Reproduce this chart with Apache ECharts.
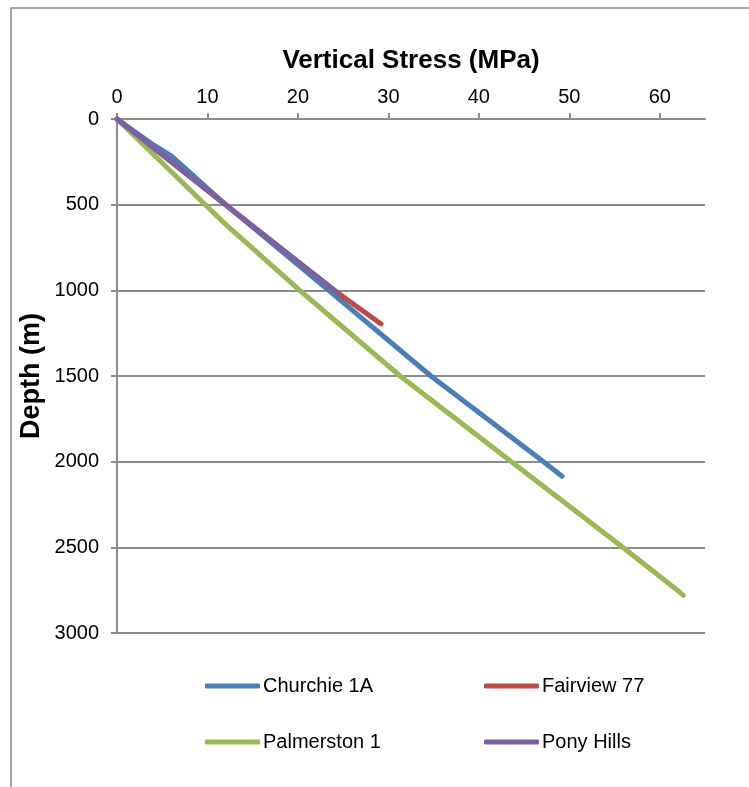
<!DOCTYPE html>
<html>
<head>
<meta charset="utf-8">
<script src="https://cdn.jsdelivr.net/npm/echarts@6/dist/echarts.min.js"></script>
<style>
  html, body { margin: 0; padding: 0; background: #fff; }
  #chart { width: 749px; height: 787px; }
</style>
</head>
<body>
<div id="chart"></div>
<script>
// Vertical stress (MPa) against depth (m) for four wells
const seriesNames = ['Churchie 1A', 'Fairview 77', 'Palmerston 1', 'Pony Hills'];

const churchieStress = [0, 4, 6, 12, 23.4, 34.7, 46.9, 49.2];
const churchieDepth  = [0, 150, 215, 500, 1000, 1500, 1990, 2085];

const fairviewStress = [0, 12, 24.4, 29.2];
const fairviewDepth  = [0, 500, 1015, 1196];

const palmerstonStress = [0, 11.7, 20.2, 31.3, 43.6, 55.9, 61.7, 62.6];
const palmerstonDepth  = [0, 600, 1000, 1500, 2000, 2500, 2740, 2780];

const ponyStress = [0, 12, 24.4];
const ponyDepth  = [0, 500, 1015];

const stressTicks = [0, 10, 20, 30, 40, 50, 60];

const colors = ['#4A7EBB', '#BE4B48', '#98B954', '#7D60A0'];

function pairs(xs, ys) { return xs.map((x, i) => [x, ys[i]]); }

const seriesData = [
  pairs(churchieStress, churchieDepth),
  pairs(fairviewStress, fairviewDepth),
  pairs(palmerstonStress, palmerstonDepth),
  pairs(ponyStress, ponyDepth)
];

const font = 'Liberation Sans, Arial, sans-serif';
const gridColor = '#8c8c8c';

const legendPos = [
  { left: 205, top: 676 },
  { left: 484, top: 676 },
  { left: 205, top: 732 },
  { left: 484, top: 732 }
];

const chart = echarts.init(document.getElementById('chart'), null, { renderer: 'canvas' });
chart.setOption({
  animation: false,
  backgroundColor: '#fff',
  color: colors,
  graphic: [{
    type: 'rect',
    shape: { x: 11, y: 8, width: 800, height: 850 },
    style: { fill: 'none', stroke: '#8a8a8a', lineWidth: 1.5 },
    silent: true
  }],
  legend: seriesNames.map((n, i) => ({
    data: [n],
    left: legendPos[i].left,
    top: legendPos[i].top,
    icon: 'roundRect',
    itemWidth: 55,
    itemHeight: 5,
    itemGap: 0,
    padding: 0,
    textStyle: { fontFamily: font, fontSize: 20, color: '#000', padding: [0, 0, 0, -2] }
  })),
  grid: { left: 117, top: 119, width: 588, height: 514, containLabel: false, outerBoundsMode: 'none' },
  xAxis: {
    type: 'value',
    position: 'top',
    min: 0,
    max: 65,
    interval: 10,
    name: 'Vertical Stress (MPa)',
    nameLocation: 'middle',
    nameGap: 45,
    nameMoveOverlap: false,
    nameTextStyle: { fontFamily: font, fontSize: 26, fontWeight: 'bold', color: '#000' },
    axisLine: { show: true, onZero: false, lineStyle: { color: gridColor, width: 2 } },
    axisTick: { show: true, length: 6, customValues: stressTicks, lineStyle: { color: gridColor, width: 2 } },
    axisLabel: { customValues: stressTicks, fontFamily: font, fontSize: 20, color: '#000', margin: 12 },
    splitLine: { show: false }
  },
  yAxis: {
    type: 'value',
    inverse: true,
    min: 0,
    max: 3000,
    interval: 500,
    name: 'Depth (m)',
    nameLocation: 'middle',
    nameGap: 72,
    nameRotate: 90,
    nameMoveOverlap: false,
    nameTextStyle: { fontFamily: font, fontSize: 27, fontWeight: 'bold', color: '#000' },
    axisLine: { show: true, onZero: false, lineStyle: { color: gridColor, width: 2 } },
    axisTick: { show: true, length: 6, lineStyle: { color: gridColor, width: 2 } },
    axisLabel: { fontFamily: font, fontSize: 20, color: '#000', margin: 18, formatter: v => String(v) },
    splitLine: { show: true, lineStyle: { color: gridColor, width: 2 } }
  },
  series: seriesNames.map((n, i) => ({
    name: n,
    type: 'line',
    data: seriesData[i],
    showSymbol: false,
    symbol: 'none',
    smooth: false,
    lineStyle: { width: 5, color: colors[i], cap: 'round', join: 'round' },
    itemStyle: { color: colors[i] }
  }))
});
</script>
</body>
</html>
